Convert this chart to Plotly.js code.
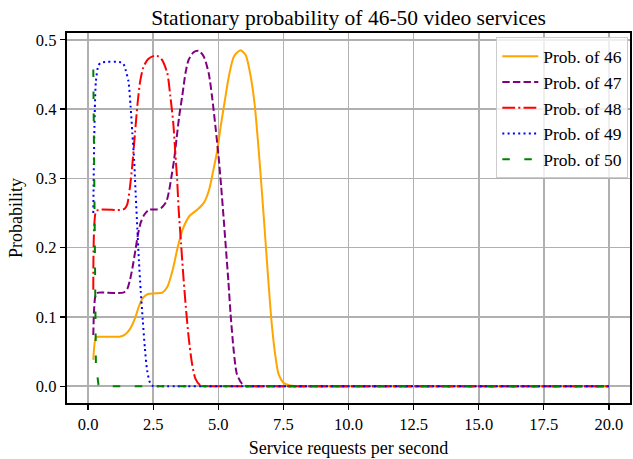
<!DOCTYPE html>
<html>
<head>
<meta charset="utf-8">
<script src="https://cdn.plot.ly/plotly-3.0.1.min.js"></script>
<style>html,body{margin:0;padding:0;background:#fff;}#chart{width:633px;height:459px;}</style>
</head>
<body>
<div id="chart"></div>
<script>
// Series names
const seriesNames = ["Prob. of 46", "Prob. of 47", "Prob. of 48", "Prob. of 49", "Prob. of 50"];

// Prob. of 46
const x46 = [0.2,0.3,0.4,0.8,1.2,1.4,1.6,1.8,1.95,2.1,2.3,2.6,2.85,3.05,3.25,3.45,3.65,3.9,4.2,4.45,4.65,4.8,4.95,5.1,5.25,5.4,5.6,5.85,6.05,6.22,6.39,6.54,6.67,6.8,6.93,7.05,7.18,7.31,7.5,7.75,8.0,8.3,20];
const y46 = [0.038,0.0705,0.0713,0.0713,0.0714,0.074,0.082,0.098,0.115,0.127,0.133,0.134,0.135,0.144,0.168,0.202,0.228,0.246,0.255,0.265,0.284,0.31,0.338,0.377,0.412,0.446,0.476,0.485,0.478,0.452,0.409,0.346,0.283,0.216,0.148,0.091,0.047,0.018,0.005,0.001,0,0,0];

// Prob. of 47
const x47 = [0.2,0.3,0.4,1.35,1.5,1.6,1.7,1.82,1.92,2.02,2.15,2.33,2.6,2.8,3.0,3.1,3.2,3.3,3.4,3.5,3.62,3.74,3.86,4.05,4.25,4.44,4.63,4.76,4.89,5.01,5.11,5.2,5.3,5.39,5.47,5.59,5.71,5.9,6.1,6.4,20];
const y47 = [0.074,0.133,0.135,0.135,0.14,0.152,0.17,0.197,0.22,0.236,0.247,0.2545,0.255,0.257,0.266,0.28,0.302,0.326,0.358,0.39,0.42,0.452,0.471,0.482,0.484,0.476,0.452,0.418,0.375,0.332,0.288,0.245,0.195,0.15,0.105,0.052,0.018,0.004,0,0,0];

// Prob. of 48
const x48 = [0.2,0.3,0.4,1.3,1.4,1.5,1.6,1.7,1.8,1.9,2.0,2.12,2.3,2.55,2.7,2.84,3.04,3.16,3.27,3.35,3.42,3.48,3.57,3.64,3.74,3.86,3.99,4.12,4.3,4.5,4.8,20];
const y48 = [0.139,0.252,0.2545,0.2545,0.256,0.262,0.285,0.32,0.365,0.408,0.44,0.46,0.472,0.477,0.476,0.471,0.452,0.418,0.38,0.336,0.298,0.254,0.206,0.168,0.12,0.071,0.033,0.011,0.0015,0,0,0];

// Prob. of 49
const x49 = [0.2,0.3,0.4,0.5,1.3,1.4,1.45,1.55,1.63,1.7,1.77,1.83,1.89,1.95,2.02,2.1,2.18,2.27,2.38,2.5,2.8,20];
const y49 = [0.25,0.44,0.463,0.467,0.467,0.462,0.455,0.44,0.405,0.365,0.325,0.275,0.228,0.182,0.138,0.095,0.055,0.022,0.005,0,0,0];

// Prob. of 50
const x50 = [0.2,0.3,0.4,0.5,20];
const y50 = [0.457,0.03,0.002,0,0];

const xs = [x46, x47, x48, x49, x50];
const ys = [y46, y47, y48, y49, y50];
const colors = ["orange", "purple", "red", "blue", "green"];
const dashes = ["solid", "7.4px,3.2px", "12.8px,3.2px,2px,3.2px", "2px,3.3px", "7.5px,14.5px"];
const shapes = ["spline", "spline", "spline", "spline", "linear"];

const FONT = "Liberation Serif, Times New Roman, serif";

const traces = seriesNames.map((n, i) => ({
  x: xs[i], y: ys[i], name: n, type: "scatter", mode: "lines",
  line: {color: colors[i], width: 2, dash: dashes[i], shape: shapes[i], smoothing: 0.7}
}));

const axisCommon = {
  showgrid: true, gridcolor: "#b0b0b0", gridwidth: 1.6,
  showline: true, mirror: true, linecolor: "black", linewidth: 1.8,
  ticks: "outside", ticklen: 5.5, tickwidth: 1.3, tickcolor: "black",
  zeroline: false, tickfont: {family: FONT, size: 16.5, color: "black"},
  automargin: false
};

const layout = {
  width: 633, height: 459,
  margin: {l: 67, r: 3, t: 33, b: 56},
  paper_bgcolor: "white", plot_bgcolor: "white",
  font: {family: FONT, color: "black"},
  title: {text: "Stationary probability of 46-50 video services", font: {family: FONT, size: 21.5, color: "black"},
          xref: "paper", x: 0.5, xanchor: "center", yref: "container", y: 0.963, yanchor: "middle"},
  xaxis: Object.assign({}, axisCommon, {
    range: [-0.81, 20.81], tick0: 0, dtick: 2.5, tickformat: ".1f",
    title: {text: "Service requests per second", font: {family: FONT, size: 18, color: "black"}, standoff: 8}
  }),
  yaxis: Object.assign({}, axisCommon, {
    range: [-0.0243, 0.5098], tick0: 0, dtick: 0.1, tickformat: ".1f",
    title: {text: "Probability", font: {family: FONT, size: 18, color: "black"}, standoff: 8}
  }),
  legend: {
    x: 0.997, xanchor: "right", y: 0.988, yanchor: "top",
    bgcolor: "rgba(255,255,255,0.8)", bordercolor: "#cccccc", borderwidth: 1,
    font: {family: FONT, size: 17.5, color: "black"}, tracegroupgap: 0, itemwidth: 36
  },
  showlegend: true
};

Plotly.newPlot("chart", traces, layout, {displayModeBar: false, staticPlot: true});
</script>
</body>
</html>
